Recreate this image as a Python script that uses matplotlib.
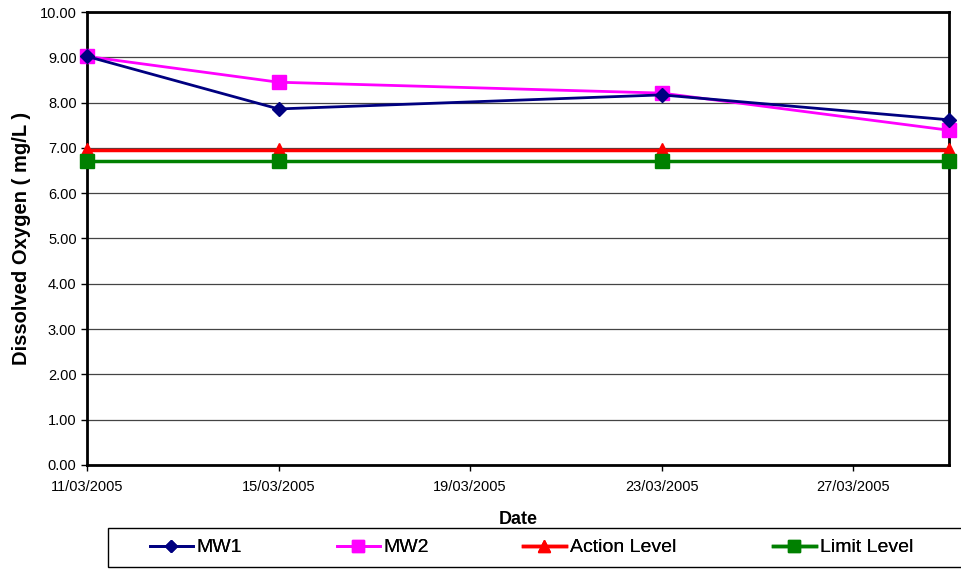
import numpy as np
import matplotlib
matplotlib.use('Agg')
import matplotlib.pyplot as plt
import matplotlib.dates as mdates
from matplotlib.patches import Rectangle
from datetime import datetime

plt.rcParams['font.family'] = ['Liberation Sans', 'DejaVu Sans']

# Sampling dates and dissolved oxygen readings (mg/L)
dates = [datetime(2005, 3, 11), datetime(2005, 3, 15),
         datetime(2005, 3, 23), datetime(2005, 3, 29)]
mw1 = [9.02, 7.86, 8.17, 7.62]
mw2 = [9.02, 8.45, 8.21, 7.39]
action_level = [6.95, 6.95, 6.95, 6.95]
limit_level = [6.70, 6.70, 6.70, 6.70]

W, H = 961, 570
fig = plt.figure(figsize=(W / 100, H / 100), dpi=100)
ax = fig.add_axes([87 / W, 105 / H, 862 / W, 453 / H])

ax.plot(dates, mw1, '-', color='#000080', marker='D', ms=7, lw=2, label='MW1',
        zorder=5, clip_on=False)
ax.plot(dates, mw2, '-', color='#ff00ff', marker='s', ms=10, lw=2, label='MW2',
        zorder=4, clip_on=False)
ax.plot(dates, action_level, '-', color='#ff0000', marker='^', ms=10, lw=2.5,
        label='Action Level', zorder=3, clip_on=False)
ax.plot(dates, limit_level, '-', color='#008000', marker='s', ms=10, lw=2.5,
        label='Limit Level', zorder=3, clip_on=False)

ax.set_xlim(dates[0], dates[-1])
ax.set_ylim(0, 10)
ax.set_yticks(np.arange(0, 10.01, 1))
ax.yaxis.set_major_formatter(matplotlib.ticker.FormatStrFormatter('%.2f'))
ax.xaxis.set_major_locator(mdates.DayLocator(bymonthday=[11, 15, 19, 23, 27]))
ax.xaxis.set_major_formatter(mdates.DateFormatter('%d/%m/%Y'))

ax.grid(axis='y', color='#444444', lw=0.9)
ax.set_axisbelow(True)
for s in ax.spines.values():
    s.set_linewidth(2)
ax.tick_params(axis='both', direction='out', length=4, width=1, labelsize=10.5)
ax.tick_params(axis='x', pad=7)

ax.set_ylabel('Dissolved Oxygen ( mg/L )', fontsize=14.5, fontweight='bold', labelpad=6)
ax.set_xlabel('Date', fontsize=13, fontweight='bold', labelpad=12)

# legend box running off the right edge, entries placed at fixed columns
fig.add_artist(Rectangle((108 / W, 3 / H), 900 / W, 39 / H, transform=fig.transFigure,
                         facecolor='white', edgecolor='black', lw=1))
handles, labels = ax.get_legend_handles_labels()
col_x = [150, 337, 523, 773]
for h, lab, x in zip(handles, labels, col_x):
    leg = fig.legend([h], [lab], loc='center left', bbox_to_anchor=(x / W, 22.5 / H),
                     fontsize=14, frameon=False, handlelength=2.2, handletextpad=0.2,
                     borderpad=0, borderaxespad=0, markerscale=0.85)
    fig.add_artist(leg)

fig.savefig('out.png', dpi=100)
